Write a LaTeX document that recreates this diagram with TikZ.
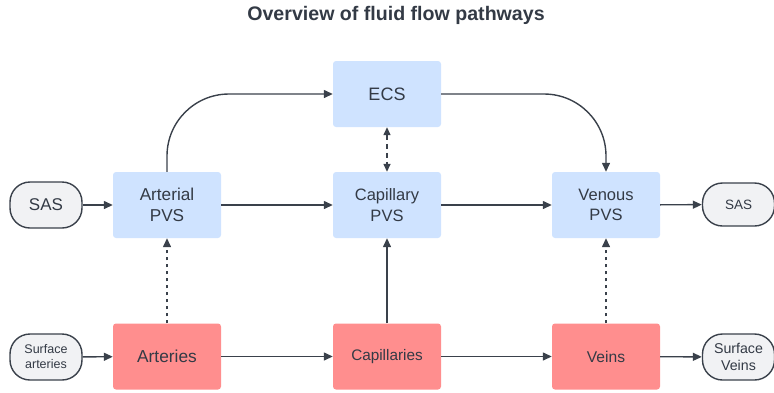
\documentclass[tikz,border=0pt]{standalone}
\usepackage{fontspec}
\setmainfont{Liberation Sans}
\usetikzlibrary{arrows.meta}
\definecolor{ink}{HTML}{3A414B}
\definecolor{txt}{HTML}{333A45}
\definecolor{pvsblue}{HTML}{CFE3FF}
\definecolor{vesselred}{HTML}{FF8E8E}
\definecolor{pillgray}{HTML}{F1F2F4}
\tikzset{
  x=1pt, y=-1pt,
  box/.style={minimum width=108pt, minimum height=66pt, rounded corners=3pt,
    draw=none, align=center, text=txt, inner sep=0pt},
  pvs/.style={box, fill=pvsblue},
  vessel/.style={box, fill=vesselred},
  pill/.style={minimum width=72pt, minimum height=46pt, rounded corners=20pt,
    draw=ink, line width=1.4pt, fill=pillgray, align=center, text=txt, inner sep=0pt},
  flow/.style={draw=ink, line width=1.4pt, -{Triangle[length=9pt,width=8pt]}},
  leak/.style={flow, dash pattern=on 3pt off 4pt},
  exch/.style={draw=ink, line width=1.4pt, dash pattern=on 5pt off 4pt,
    {Triangle[length=8pt,width=7pt]}-{Triangle[length=8pt,width=7pt]}}
}
\begin{document}
\begin{tikzpicture}
\useasboundingbox (0,0) rectangle (774,392);
\node[text=txt, font=\bfseries\fontsize{19.6}{22}\selectfont] (title) at (396,15) {Overview of fluid flow pathways};

\node[pvs, font=\fontsize{18}{21}\selectfont] (ecs) at (387,94) {ECS};
\node[pvs, font=\fontsize{17.2}{21}\selectfont] (apvs) at (167,205) {Arterial\\PVS};
\node[pvs, font=\fontsize{16.5}{20.5}\selectfont] (cpvs) at (387,205) {Capillary\\PVS};
\node[pvs, font=\fontsize{16.5}{20.5}\selectfont] (vpvs) at (606,205) {Venous\\PVS};

\node[vessel, font=\fontsize{17.3}{20}\selectfont] (art) at (167,356.5) {Arteries};
\node[vessel, font=\fontsize{15.3}{18}\selectfont] (cap) at (387,356.5) {Capillaries};
\node[vessel, font=\fontsize{15.6}{18}\selectfont] (vein) at (606,356.5) {Veins};

\node[pill, font=\fontsize{17}{19}\selectfont] (sasl) at (46,205) {SAS};
\node[pill, font=\fontsize{12.5}{15}\selectfont] (surfa) at (46,357) {Surface\\arteries};
\node[pill, minimum height=43pt, font=\fontsize{13.5}{15}\selectfont] (sasr) at (738.5,204.5) {SAS};
\node[pill, font=\fontsize{14.2}{17}\selectfont] (surfv) at (738.5,357) {Surface\\Veins};

% horizontal flow along both rows
\draw[flow] (sasl) -- (apvs);
\draw[flow] (apvs) -- (cpvs);
\draw[flow] (cpvs) -- (vpvs);
\draw[flow] (vpvs) -- (sasr);
\draw[flow] (surfa) -- (art);
\draw[flow] (art) -- (cap);
\draw[flow] (cap) -- (vein);
\draw[flow] (vein) -- (surfv);

% exchange with the extracellular space
\draw[flow, rounded corners=62pt] (apvs.north) |- (ecs.west);
\draw[flow, rounded corners=62pt] (ecs.east) -| (vpvs.north);
\draw[exch] (ecs) -- (cpvs);

% vessel walls to perivascular spaces
\draw[leak] (art) -- (apvs);
\draw[flow] (cap) -- (cpvs);
\draw[leak] (vein) -- (vpvs);
\end{tikzpicture}
\end{document}
